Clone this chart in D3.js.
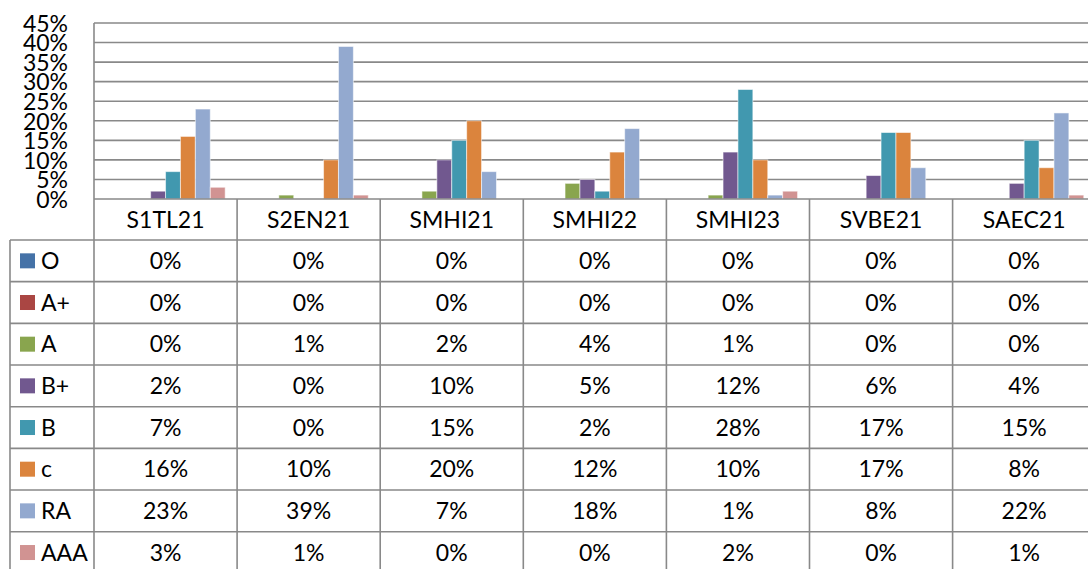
<!DOCTYPE html>
<html>
<head>
<meta charset="utf-8">
<script src="https://cdn.jsdelivr.net/npm/d3@7"></script>
<style>
  html, body { margin: 0; padding: 0; background: #fff; }
  svg { display: block; }
  text { font-family: Lato, "Open Sans", sans-serif; font-size: 23px; fill: #000; }
</style>
</head>
<body>
<script>
const categories = ["S1TL21", "S2EN21", "SMHI21", "SMHI22", "SMHI23", "SVBE21", "SAEC21"];
const seriesNames = ["O", "A+", "A", "B+", "B", "c", "RA", "AAA"];
const seriesColors = ["#4572A7", "#AA4643", "#89A54E", "#71588F", "#4198AF", "#DB843D", "#93A9CF", "#D19392"];
const valO   = [0, 0, 0, 0, 0, 0, 0];
const valAp  = [0, 0, 0, 0, 0, 0, 0];
const valA   = [0, 1, 2, 4, 1, 0, 0];
const valBp  = [2, 0, 10, 5, 12, 6, 4];
const valB   = [7, 0, 15, 2, 28, 17, 15];
const valC   = [16, 10, 20, 12, 10, 17, 8];
const valRA  = [23, 39, 7, 18, 1, 8, 22];
const valAAA = [3, 1, 0, 0, 2, 0, 1];
const yTicks = [0, 5, 10, 15, 20, 25, 30, 35, 40, 45];

const seriesValues = [valO, valAp, valA, valBp, valB, valC, valRA, valAAA];

const W = 1088, H = 569;
const plotLeft = 94, plotTop = 23, plotBottom = 199;
const colW = 143.1;
const tableLeft = 10;
const headerBottom = 240;
const rowH = 41.67;
const gridColor = "#898989";

const svg = d3.select("body").append("svg").attr("width", W).attr("height", H);

const x = d3.scaleBand().domain(categories).range([plotLeft, plotLeft + colW * categories.length]).padding(0);
const xi = d3.scaleBand().domain(seriesNames).range([0, x.bandwidth()]).paddingInner(0).paddingOuter(0.8);
const y = d3.scaleLinear().domain([0, 45]).range([plotBottom, plotTop]);

// gridlines
svg.append("g").selectAll("line").data(yTicks.filter(t => t > 0)).join("line")
  .attr("x1", plotLeft).attr("x2", W)
  .attr("y1", d => y(d)).attr("y2", d => y(d))
  .attr("stroke", gridColor).attr("stroke-width", 1.6);

// y axis labels
const yAxis = d3.axisLeft(y).tickValues(yTicks).tickFormat(d => d + "%").tickSize(0).tickPadding(0);
const yg = svg.append("g").attr("transform", `translate(68,0)`).call(yAxis);
yg.select(".domain").remove();
yg.selectAll("text").attr("font-size", null).attr("font-family", null).attr("fill", "#000").attr("dy", "0.36em");

// bars
const barData = [];
seriesNames.forEach((s, si) => {
  categories.forEach((c, ci) => {
    barData.push({ s, c, v: seriesValues[si][ci], color: seriesColors[si] });
  });
});
svg.append("g").selectAll("rect").data(barData.filter(d => d.v > 0)).join("rect")
  .attr("x", d => x(d.c) + xi(d.s))
  .attr("width", xi.bandwidth())
  .attr("y", d => y(d.v))
  .attr("height", d => y(0) - y(d.v))
  .attr("fill", d => d.color)
  .attr("stroke", "#ffffff").attr("stroke-opacity", 0.55).attr("stroke-width", 1);

// table lines
const tg = svg.append("g").attr("stroke", gridColor).attr("stroke-width", 1.6);
// baseline / header top
tg.append("line").attr("x1", plotLeft).attr("x2", W).attr("y1", plotBottom).attr("y2", plotBottom);
// horizontal row lines
const rowLines = d3.range(0, seriesNames.length + 1).map(i => headerBottom + i * rowH);
tg.selectAll("line.h").data(rowLines).join("line").attr("class", "h")
  .attr("x1", tableLeft).attr("x2", W).attr("y1", d => d).attr("y2", d => d);
// y axis line + category column separators
const colEdges = categories.map(c => x(c));
tg.selectAll("line.v").data(colEdges).join("line").attr("class", "v")
  .attr("x1", d => d).attr("x2", d => d)
  .attr("y1", (d, i) => i === 0 ? plotTop : plotBottom).attr("y2", H + 5);
tg.append("line").attr("x1", tableLeft).attr("x2", tableLeft).attr("y1", headerBottom).attr("y2", H + 5);

// header labels
svg.append("g").selectAll("text").data(categories).join("text")
  .attr("x", d => x(d) + x.bandwidth() / 2)
  .attr("y", (plotBottom + headerBottom) / 2)
  .attr("dy", "0.36em")
  .attr("text-anchor", "middle")
  .text(d => d);

// legend column
const lg = svg.append("g");
seriesNames.forEach((s, si) => {
  const cy = headerBottom + si * rowH + rowH / 2;
  lg.append("rect").attr("x", 20).attr("y", cy - 7.5).attr("width", 15).attr("height", 15).attr("fill", seriesColors[si]);
  lg.append("text").attr("x", 41).attr("y", cy).attr("dy", "0.36em").text(s);
});

// cell values
svg.append("g").selectAll("text").data(barData).join("text")
  .attr("x", d => x(d.c) + x.bandwidth() / 2)
  .attr("y", d => headerBottom + seriesNames.indexOf(d.s) * rowH + rowH / 2)
  .attr("dy", "0.36em")
  .attr("text-anchor", "middle")
  .text(d => d.v + "%");
</script>
</body>
</html>
